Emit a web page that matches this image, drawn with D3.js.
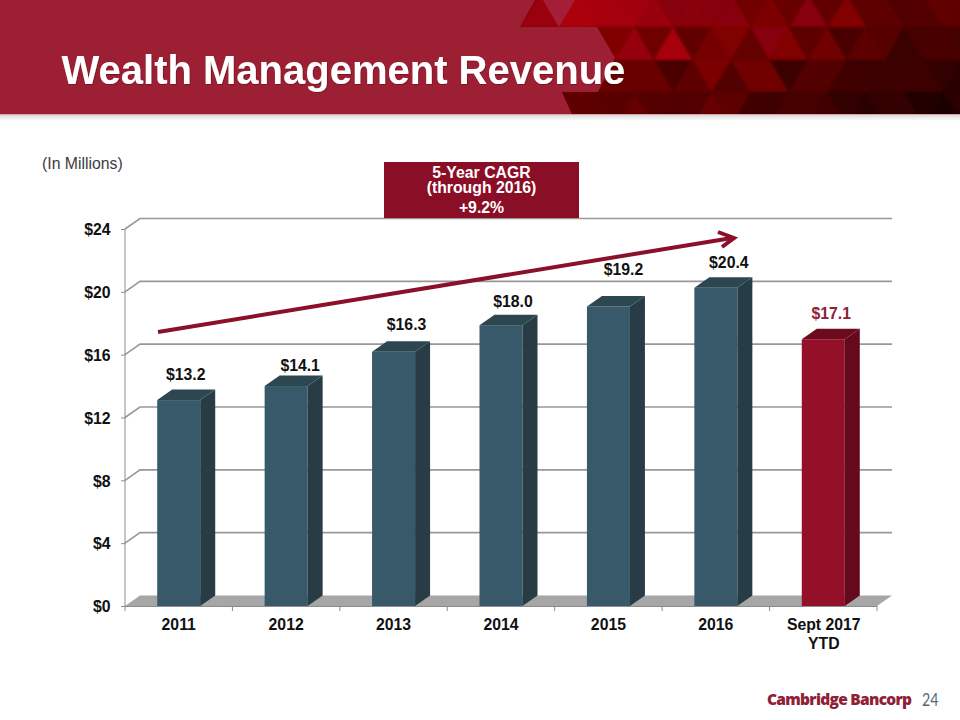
<!DOCTYPE html>
<html><head><meta charset="utf-8">
<script src="https://cdn.jsdelivr.net/npm/d3@7"></script>
<style>html,body{margin:0;padding:0;background:#fff}svg{display:block}text{font-family:"Liberation Sans",Arial,sans-serif}</style>
</head><body><div id="c"></div>
<script>
const categories=["2011","2012","2013","2014","2015","2016","Sept 2017|YTD"];
const values=[13.2,14.1,16.3,18.0,19.2,20.4,17.1];
const labels=["$13.2","$14.1","$16.3","$18.0","$19.2","$20.4","$17.1"];
const axisTicks=[0,4,8,12,16,20,24];

const W=960,H=720;
const svg=d3.select("#c").append("svg").attr("width",W).attr("height",H);
const defs=svg.append("defs");
const grad=defs.append("linearGradient").attr("id","hdr").attr("x1",0).attr("x2",1).attr("y1",0).attr("y2",0.25);
[[0,"#8a0006"],[.5,"#5c0004"],[1,"#2a0000"]].forEach(s=>grad.append("stop").attr("offset",s[0]).attr("stop-color",s[1]));
const shGrad=defs.append("linearGradient").attr("id","sh").attr("x1",0).attr("x2",0).attr("y1",0).attr("y2",1);
shGrad.append("stop").attr("offset",0).attr("stop-color","#dcdcdc");
shGrad.append("stop").attr("offset",1).attr("stop-color","#fff");
const f=defs.append("filter").attr("id","ts").attr("x","-5%").attr("y","-20%").attr("width","110%").attr("height","150%");
f.append("feDropShadow").attr("dx",.6).attr("dy",.8).attr("stdDeviation",.6).attr("flood-color","#300").attr("flood-opacity",.45);
const soft=defs.append("filter").attr("id","soft").attr("x","0").attr("y","0").attr("width","100%").attr("height","100%");
soft.append("feGaussianBlur").attr("stdDeviation",.9);
defs.append("clipPath").attr("id","hc").append("rect").attr("x",480).attr("y",0).attr("width",480).attr("height",114);

// header background
const hdr=svg.append("g");
hdr.append("rect").attr("x",0).attr("y",115).attr("width",W).attr("height",6).attr("fill","url(#sh)");
const clipG=hdr.append("g").attr("clip-path","url(#hc)");
clipG.append("rect").attr("x",480).attr("y",0).attr("width",480).attr("height",114).attr("fill","url(#hdr)");
const facetG=clipG.append("g").attr("filter","url(#soft)");
const step=19.25;
const facetRows=[
 {x0:520,top:-5,bot:27,lv:[.85,1,1.1,1.1,1.1,1.1,1.05,.9,1,1,1.05,.85,1,.8,1.25,.8,1.3,.8,.85,.75,.85,1.15,1.15]},
 {x0:577,top:27,bot:60,lv:[.9,.9,1.2,.8,1.5,.7,1,1.2,.85,1.4,1.4,.9,1.3,.75,1.1,1.05,.6,.9,1.1,1]},
 {x0:558,top:60,bot:92,lv:[.85,.85,.8,.85,.9,.55,.85,1.35,.8,1.35,1.4,.55,1.05,1.1,.8,.85,.9,1,1.1,.9,.8]},
 {x0:539,top:92,bot:125,lv:[.8,.8,.8,.8,1.05,.85,.85,.95,1.4,1.3,.8,.8,1.15,1.15,1.15,.8,.75,1.2,1.2,.75,.7]}
];
facetRows.forEach(r=>r.lv.forEach((l,i)=>{
  const left=r.x0+step*i,cx=left+step,up=i%2===0;
  const pts=up?[[left,r.bot],[left+2*step,r.bot],[cx,r.top]]:[[left,r.top],[left+2*step,r.top],[cx,r.bot]];
  const cy=(r.top+r.bot)/2;
  const soft=1+(l-1)*.65;
  const red=Math.max(26,Math.min(185,(172-.2*(cx-560)-.55*cy)*soft));
  const col=d3.rgb(red,red*.02,red*.05);
  facetG.append("polygon").attr("points",pts.join(" ")).attr("stroke-width",.5).attr("fill",col).attr("stroke",col);
}));
// crimson title band
hdr.append("polygon").attr("fill","#9d1f33")
 .attr("points","0,0 535,0 520,27 597,27 615,58 598,92 562,92 572,114.5 0,114.5");
hdr.append("polygon").attr("fill","#a31f38").attr("points","543,0 575,0 559,27");
hdr.append("line").attr("x1",0).attr("x2",W).attr("y1",114.5).attr("y2",114.5).attr("stroke","#d6a3ab").attr("stroke-width",1);
hdr.append("text").attr("x",61.5).attr("y",84).attr("fill","#fff").attr("font-size",40).attr("font-weight","bold").attr("filter","url(#ts)").text("Wealth Management Revenue");

svg.append("text").attr("x",42).attr("y",169).attr("font-size",15.8).attr("fill","#3c3c3c").text("(In Millions)");

// chart geometry
const x=d3.scaleBand().domain(categories).range([125,877]).paddingInner(0).paddingOuter(0);
const yAxis=d3.scaleLinear().domain([0,24]).range([606,229]);
const yBar=d3.scaleLinear().domain([0,24]).range([606,231.6]);
const dx=15,dy=-10.5,barW=43,fs=15.8;

const gridG=svg.append("g");
gridG.append("polygon").attr("fill","#a6a6a6").attr("points",[[x.range()[0],606],[x.range()[0]+dx,606+dy],[x.range()[1]+dx,606+dy],[x.range()[1],606]].join(" "));
axisTicks.forEach(t=>{
  const y=yAxis(t);
  if(t>0){
    gridG.append("path").attr("fill","none").attr("stroke","#989898").attr("stroke-width",1.6)
     .attr("d",`M125,${y}L${125+dx},${y+dy}H${877+dx}`);
  }
});
gridG.append("line").attr("x1",125).attr("x2",125).attr("y1",yAxis(24)).attr("y2",606).attr("stroke","#8c8c8c").attr("stroke-width",1);
gridG.append("line").attr("x1",125).attr("x2",877).attr("y1",606.5).attr("y2",606.5).attr("stroke","#8c8c8c").attr("stroke-width",1);
axisTicks.forEach(t=>{
  const y=yAxis(t);
  gridG.append("line").attr("x1",121).attr("x2",125).attr("y1",y+.5).attr("y2",y+.5).attr("stroke","#8c8c8c");
  gridG.append("text").attr("x",110.5).attr("y",y+6.3).attr("text-anchor","end").attr("font-size",fs).attr("font-weight","bold").attr("fill","#111").text("$"+t);
});
categories.forEach((c,i)=>{
  const bx=x(c)+x.bandwidth();
  gridG.append("line").attr("x1",bx).attr("x2",bx).attr("y1",606).attr("y2",611).attr("stroke","#8c8c8c");
  const lines=c.split("|");
  lines.forEach((l,j)=>gridG.append("text").attr("x",x(c)+x.bandwidth()/2+(i==6?.5:0)).attr("y",630+j*19).attr("text-anchor","middle").attr("font-size",fs).attr("font-weight","bold").attr("fill","#111").text(l));
});
gridG.append("line").attr("x1",125).attr("x2",125).attr("y1",606).attr("y2",611).attr("stroke","#8c8c8c");

// bars
const colFront=["#37596a","#941028"],colSide=["#283c45","#640a1c"],colTop=["#2d4751","#6d0b1e"];
const labelNudgeX=[7,14,13,12,15,13,8],labelNudgeY=[-20,-15,-22,-18,-31,-20,-20];
categories.forEach((c,i)=>{
  const k=i==6?1:0;
  const left=x(c)+x.bandwidth()/2-barW/2, r=left+barW, top=yBar(values[i]);
  const g=svg.append("g");
  g.append("rect").attr("x",left).attr("y",top).attr("width",barW).attr("height",606-top).attr("fill",colFront[k]);
  g.append("polygon").attr("fill",colSide[k]).attr("points",[[r,top],[r+dx,top+dy],[r+dx,606+dy],[r,606]].join(" "));
  g.append("polygon").attr("fill",colTop[k]).attr("points",[[left,top],[left+dx,top+dy],[r+dx,top+dy],[r,top]].join(" "));
  g.append("text").attr("x",left+barW/2+labelNudgeX[i]).attr("y",top+labelNudgeY[i]).attr("text-anchor","middle").attr("font-size",fs).attr("font-weight","bold").attr("fill",k?"#8e2136":"#111").text(labels[i]);
});

// trend arrow
svg.append("path").attr("fill","none").attr("stroke","#8b1029").attr("stroke-width",4).attr("d","M158,332L732,238");
svg.append("path").attr("fill","none").attr("stroke","#8b1029").attr("stroke-width",4).attr("d","M718,232L734,238L722,247");

// callout
svg.append("rect").attr("x",384).attr("y",162).attr("width",195).attr("height",56).attr("fill","#8b0e27");
const co=svg.append("text").attr("text-anchor","middle").attr("font-size",15.8).attr("font-weight","bold").attr("fill","#fff");
[["5-Year CAGR",177.5],["(through 2016)",193],["+9.2%",212.5]].forEach(([t,y])=>co.append("tspan").attr("x",481.5).attr("y",y).text(t));

// footer
svg.append("text").attr("x",767).attr("y",705).attr("font-size",15.5).attr("font-weight","800").attr("fill","#8e2136").style("font-family","'Open Sans',sans-serif").attr("textLength",145).text("Cambridge Bancorp");
svg.append("text").attr("x",922).attr("y",706).attr("font-size",17).attr("fill","#4f6a7a").style("font-family","Lato,sans-serif").attr("textLength",16.5).attr("lengthAdjust","spacingAndGlyphs").text("24");
</script></body></html>
